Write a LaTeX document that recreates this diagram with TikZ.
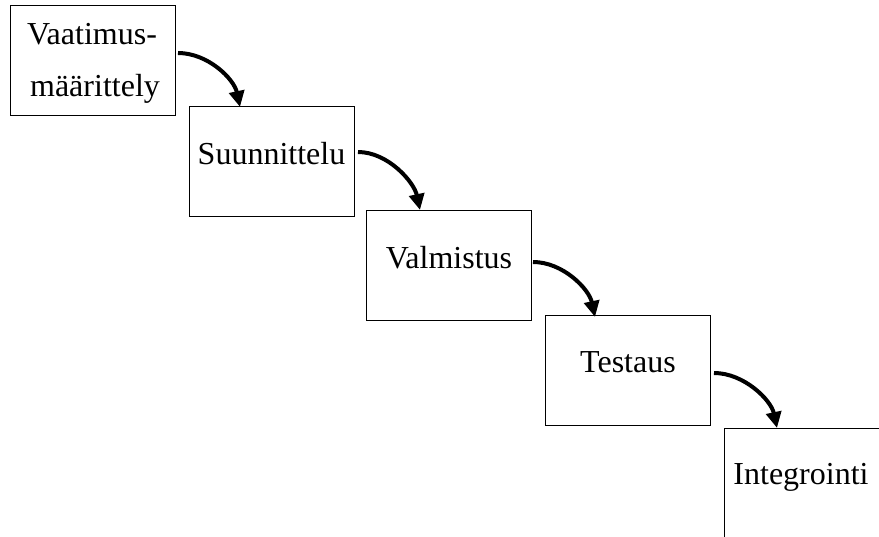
\documentclass[tikz,border=0pt]{standalone}
\usepackage{fontspec}
\setmainfont{Liberation Serif}
\usetikzlibrary{arrows.meta}
\begin{document}
\begin{tikzpicture}[x=1pt,y=-1pt,
  stage/.style={draw, line width=1pt, minimum width=165pt, minimum height=110pt,
    anchor=north west, inner sep=0pt, outer sep=0pt},
  lbl/.style={font=\fontsize{32}{38}\selectfont, anchor=base, inner sep=0pt},
  flow/.style={line width=4pt, -{Triangle[length=16pt,width=15pt]}}]
\useasboundingbox (0,0) rectangle (879,537);
\clip (0,0) rectangle (879,537);
\node[stage] (b1) at (10,6) {};
\node[stage] (b2) at (189,107) {};
\node[stage] (b3) at (366,211) {};
\node[stage] (b4) at (545,316) {};
\node[stage] (b5) at (724,429) {};
\node[lbl] (t1a) at (92,45) {Vaatimus-};
\node[lbl] (t1b) at (95,97) {määrittely};
\node[lbl] (t2) at (271.5,165) {Suunnittelu};
\node[lbl] (t3) at (449,269) {Valmistus};
\node[lbl] (t4) at (628,373) {Testaus};
\node[lbl] (t5) at (801,485) {Integrointi};
\draw[flow] ([shift={(3,47)}]b1.north east) .. controls +(30,0) and +(-6,-28) .. ([xshift=51pt]b2.north west);
\draw[flow] ([shift={(4,45)}]b2.north east) .. controls +(30,0) and +(-6,-28) .. ([xshift=54pt,yshift=1pt]b3.north west);
\draw[flow] ([shift={(2,51)}]b3.north east) .. controls +(30,0) and +(-6,-28) .. ([xshift=50pt,yshift=-1pt]b4.north west);
\draw[flow] ([shift={(4,57)}]b4.north east) .. controls +(30,0) and +(-6,-28) .. ([xshift=53pt,yshift=1pt]b5.north west);
\end{tikzpicture}
\end{document}
